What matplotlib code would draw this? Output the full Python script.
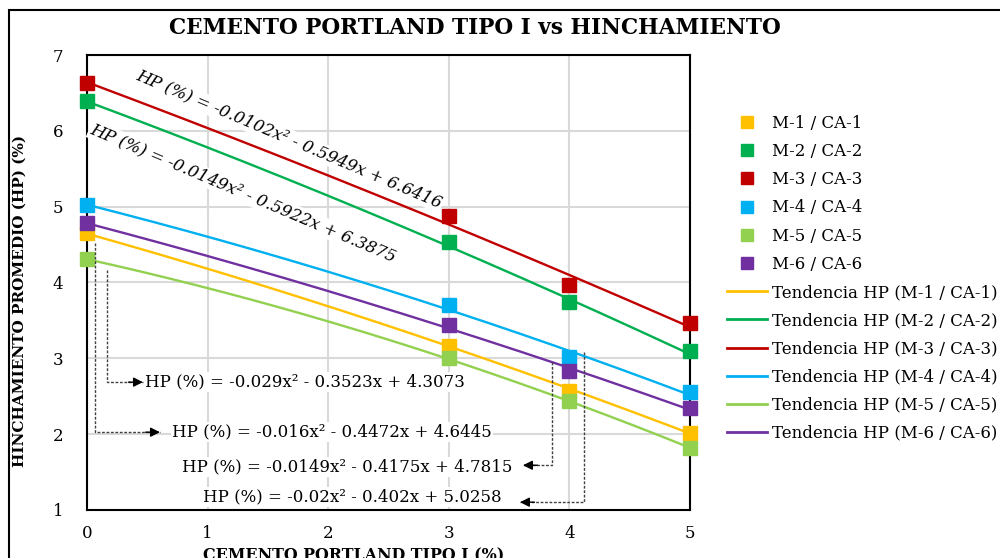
import numpy as np
import matplotlib.pyplot as plt
from matplotlib.lines import Line2D
from matplotlib.patches import Rectangle

plt.rcParams['font.family'] = ['DejaVu Serif']

# data
cement = [0, 3, 4, 5]
labels = ["M-1 / CA-1", "M-2 / CA-2", "M-3 / CA-3", "M-4 / CA-4", "M-5 / CA-5", "M-6 / CA-6"]
colors = ["#FFC000", "#00B050", "#C00000", "#00B0F0", "#92D050", "#7030A0"]
hp_m1 = [4.65, 3.16, 2.57, 2.01]
hp_m2 = [6.39, 4.53, 3.74, 3.10]
hp_m3 = [6.63, 4.88, 3.97, 3.46]
hp_m4 = [5.02, 3.70, 3.02, 2.55]
hp_m5 = [4.31, 3.00, 2.44, 1.82]
hp_m6 = [4.78, 3.44, 2.83, 2.34]
series = [hp_m1, hp_m2, hp_m3, hp_m4, hp_m5, hp_m6]

# trend coefficients (a x^2 + b x + c) as printed on the chart
coef_m1 = [-0.016, -0.4472, 4.6445]
coef_m2 = [-0.0149, -0.5922, 6.3875]
coef_m3 = [-0.0102, -0.5949, 6.6416]
coef_m4 = [-0.02, -0.402, 5.0258]
coef_m5 = [-0.029, -0.3523, 4.3073]
coef_m6 = [-0.0149, -0.4175, 4.7815]
coefs = [coef_m1, coef_m2, coef_m3, coef_m4, coef_m5, coef_m6]


def eq_text(c):
    return f"HP (%) = {c[0]:g}x\u00b2 - {abs(c[1]):g}x + {c[2]:g}"


fig = plt.figure(figsize=(10, 5.58), dpi=100)
ax = fig.add_axes([0.087, 1 - 510 / 558, 0.603, 455 / 558])

# outer chart frame (cropped on the right and bottom)
fig.patches.append(Rectangle((0.009, -0.1), 1.2, 1.1 - 10 / 558, transform=fig.transFigure,
                             fill=False, edgecolor="black", lw=1.5, clip_on=False))

xs = np.linspace(0, 5, 200)
for c, col in zip(coefs, colors):
    ax.plot(xs, np.polyval(c, xs), color=col, lw=1.7, zorder=3)
for y, col in zip(series, colors):
    ax.plot(cement, y, ls="none", marker="s", ms=9.5, color=col, zorder=4, clip_on=False)

ax.set_xlim(0, 5)
ax.set_ylim(1, 7)
ax.set_xticks(range(0, 6))
ax.set_yticks(range(1, 8))
ax.grid(True, color="#d9d9d9", lw=1.5, zorder=0)
ax.set_axisbelow(True)
for s in ax.spines.values():
    s.set_color("black")
    s.set_linewidth(1.5)
    s.set_zorder(2)
ax.tick_params(axis="both", length=0, labelsize=12)
ax.tick_params(axis="y", pad=17)
ax.tick_params(axis="x", pad=11)

bb = dict(facecolor="white", edgecolor="none", pad=1)
ax.text(1.675, 5.89, eq_text(coef_m3), rotation=-23, ha="center", va="center",
        rotation_mode="anchor", fontsize=12, style="italic", bbox=bb, zorder=5)
ax.text(1.293, 5.18, eq_text(coef_m2), rotation=-23, ha="center", va="center",
        rotation_mode="anchor", fontsize=12, style="italic", bbox=bb, zorder=5)

ax.text(0.481, 2.686, eq_text(coef_m5), ha="left", va="center", fontsize=12, bbox=bb, zorder=5)
ax.text(0.705, 2.026, eq_text(coef_m1), ha="left", va="center", fontsize=12, bbox=bb, zorder=5)
ax.text(3.524, 1.565, eq_text(coef_m6), ha="right", va="center", fontsize=12, bbox=bb, zorder=5)
ax.text(3.441, 1.169, eq_text(coef_m4), ha="right", va="center", fontsize=12, bbox=bb, zorder=5)

# dashed leader arrows
leaders = [
    (0.166, 4.164, 2.686, 0.464),
    (0.066, 4.52, 2.026, 0.605),
    (3.856, 2.95, 1.59, 3.615),
    (4.121, 3.08, 1.103, 3.59),
]
for lx, ytop, ybot, tip in leaders:
    ax.plot([lx, lx, tip], [ytop, ybot, ybot], ls=(0, (2, 1.2)), color="#404040", lw=1, zorder=6)
    d = 0.12 if tip > lx else -0.12
    ax.annotate("", xy=(tip, ybot), xytext=(tip - d, ybot),
                arrowprops=dict(arrowstyle="-|>", color="black", lw=1, mutation_scale=14,
                                shrinkA=0, shrinkB=0), zorder=7)

fig.text(0.475, 1 - 28 / 558, "CEMENTO PORTLAND TIPO I vs HINCHAMIENTO", ha="center", va="center",
         fontsize=15.6, fontweight="bold")
fig.text(0.020, 1 - 301 / 558, "HINCHAMIENTO PROMEDIO (HP) (%)", rotation=90, ha="center", va="center",
         fontsize=11, fontweight="bold")
fig.text(0.354, 1 - 556 / 558, "CEMENTO PORTLAND TIPO I (%)", ha="center", va="center",
         fontsize=11.4, fontweight="bold")

handles = [Line2D([], [], ls="none", marker="s", ms=8, color=c) for c in colors]
handles += [Line2D([], [], color=c, lw=2) for c in colors]
names = labels + [f"Tendencia HP ({l})" for l in labels]
fig.legend(handles, names, loc="upper left", bbox_to_anchor=(0.727, 1 - 115 / 558), frameon=False,
           fontsize=12, labelspacing=0.67, handlelength=2.4, handletextpad=0.3, borderpad=0,
           borderaxespad=0)

fig.savefig("out.png", dpi=100)
